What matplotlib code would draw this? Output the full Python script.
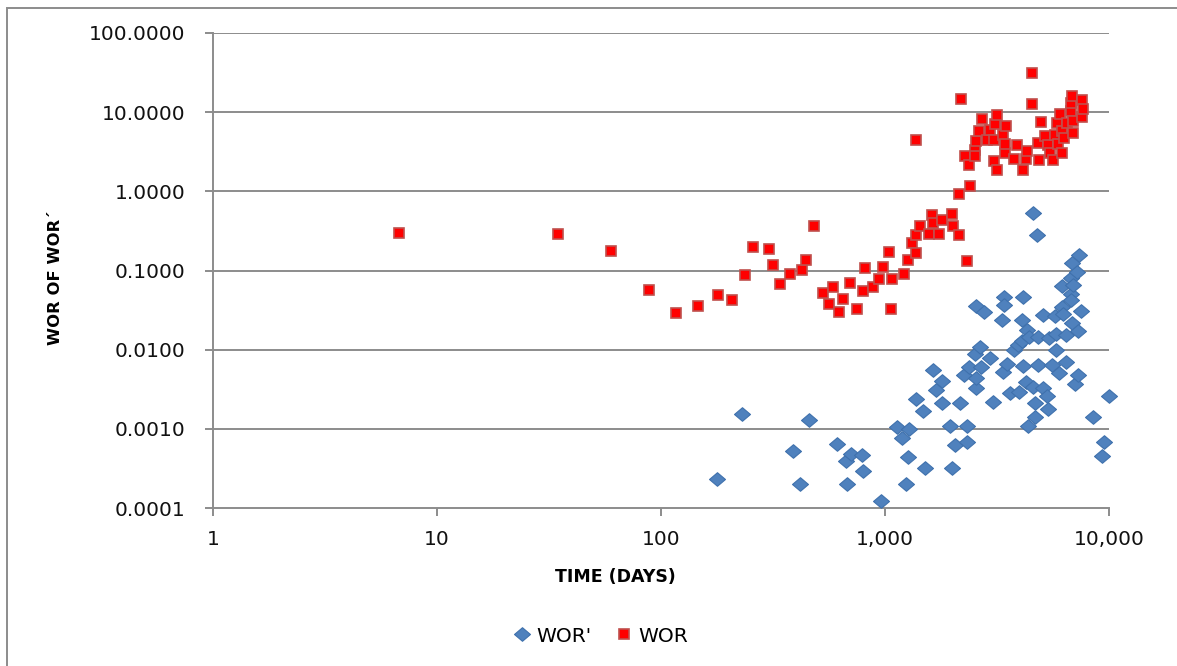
import matplotlib
matplotlib.use("Agg")
import matplotlib.pyplot as plt
from matplotlib.path import Path
from matplotlib.patches import Rectangle
from matplotlib.ticker import FixedLocator, FixedFormatter, NullLocator

# WOR (red squares): time (days), value
wor_t = [6.8, 34.7, 60, 88, 117, 146, 179, 208, 237, 258, 303, 315, 341, 378, 425,
         446, 482, 527, 565, 583, 624, 650, 700, 750, 800, 815, 880, 940, 975, 1040,
         1060, 1080, 1220, 1270, 1320, 1370, 1370, 1375, 1440, 1580, 1620, 1640, 1750,
         1800, 1990, 2010, 2140, 2140, 2185, 2270, 2320, 2380, 2390, 2510, 2510, 2540,
         2620, 2710, 2850, 2940, 3060, 3070, 3090, 3160, 3160, 3350, 3420, 3430, 3470,
         3780, 3900, 4120, 4250, 4290, 4530, 4530, 4810, 4880, 4960, 5160, 5350, 5480,
         5640, 5730, 5850, 5910, 6020, 6170, 6180, 6320, 6500, 6770, 6790, 6860, 6900,
         6900, 7590, 7590, 7620]
wor_v = [0.30, 0.29, 0.174, 0.057, 0.029, 0.036, 0.049, 0.042, 0.089, 0.20, 0.188, 0.118,
         0.068, 0.090, 0.101, 0.134, 0.368, 0.052, 0.038, 0.061, 0.030, 0.044, 0.069,
         0.033, 0.055, 0.106, 0.061, 0.078, 0.110, 0.171, 0.033, 0.077, 0.091, 0.134,
         0.224, 0.28, 0.164, 4.43, 0.36, 0.29, 0.50, 0.40, 0.29, 0.43, 0.52, 0.37, 0.28,
         0.92, 14.5, 2.77, 0.13, 2.17, 1.17, 3.37, 2.77, 4.3, 5.7, 8.3, 4.4, 5.9, 4.5,
         2.4, 7.0, 9.1, 1.88, 5.2, 3.06, 4.0, 6.6, 2.56, 3.9, 1.88, 2.56, 3.2, 12.5, 31.0,
         4.1, 2.52, 7.5, 5.0, 3.8, 3.06, 2.47, 5.2, 7.3, 4.0, 9.6, 5.7, 3.06, 4.7, 7.4,
         10.3, 12.9, 16.1, 7.7, 5.4, 14.3, 8.7, 11.1]

# WOR' (blue diamonds): time (days), derivative value
dwor_t = [178, 231, 390, 418, 459, 608, 670, 675, 703, 787, 795, 955, 1130, 1190, 1240,
          1270, 1280, 1370, 1480, 1510, 1640, 1690, 1800, 1800, 1960, 1990, 2050, 2160,
          2260, 2330, 2330, 2360, 2520, 2540, 2560, 2560, 2660, 2680, 2760, 2930, 3050,
          3320, 3370, 3390, 3390, 3520, 3630, 3780, 3920, 3980, 4090, 4090, 4150, 4150,
          4240, 4290, 4350, 4410, 4580, 4590, 4690, 4690, 4750, 4810, 4810, 5080, 5080,
          5260, 5350, 5370, 5590, 5730, 5800, 5800, 6000, 6170, 6170, 6260, 6440, 6440,
          6750, 6750, 6790, 6830, 6830, 6940, 7080, 7230, 7280, 7290, 7350, 7470, 8510,
          9340, 9460, 9980]
dwor_v = [0.00023, 0.00156, 0.00053, 0.00020, 0.00130, 0.00064, 0.00039, 0.00020, 0.00048,
          0.00047, 0.00029, 0.000123, 0.00105, 0.00077, 0.00020, 0.00044, 0.00099, 0.0024,
          0.0017, 0.00032, 0.0055, 0.0031, 0.0040, 0.0021, 0.0011, 0.00032, 0.00062,
          0.0021, 0.0048, 0.0011, 0.00068, 0.0061, 0.0087, 0.0033, 0.0044, 0.036, 0.0107,
          0.0061, 0.030, 0.0079, 0.0022, 0.024, 0.0052, 0.046, 0.037, 0.0065, 0.0028,
          0.0100, 0.0115, 0.0029, 0.0237, 0.0127, 0.046, 0.0062, 0.0039, 0.0179, 0.0011,
          0.0144, 0.53, 0.0034, 0.0021, 0.0014, 0.277, 0.0146, 0.0064, 0.0275, 0.0033,
          0.0026, 0.0018, 0.0141, 0.0064, 0.027, 0.016, 0.0099, 0.0050, 0.063, 0.035,
          0.028, 0.0154, 0.0070, 0.081, 0.051, 0.042, 0.126, 0.022, 0.065, 0.0037, 0.096,
          0.0048, 0.0173, 0.158, 0.031, 0.0014, 0.00046, 0.00068, 0.0026]

x_ticks = [1, 10, 100, 1000, 10000]
x_tick_labels = ["1", "10", "100", "1,000", "10,000"]
y_ticks = [0.0001, 0.001, 0.01, 0.1, 1, 10, 100]
y_tick_labels = ["0.0001", "0.0010", "0.0100", "0.1000", "1.0000", "10.0000", "100.0000"]

W, H = 1177, 666
fig = plt.figure(figsize=(W / 100, H / 100), dpi=100)
fig.patch.set_facecolor("white")

ax = fig.add_axes([213 / W, 1 - 508 / H, (1109 - 213) / W, (508 - 33) / H])
ax.set_xscale("log")
ax.set_yscale("log")
ax.set_xlim(1, 10000)
ax.set_ylim(0.0001, 100)

grid_c = "#8c8c8c"
for v in y_ticks[1:]:
    ax.axhline(v, color=grid_c, lw=1.4, zorder=1)

for s in ["top", "right"]:
    ax.spines[s].set_visible(False)
for s in ["left", "bottom"]:
    ax.spines[s].set_color(grid_c)
    ax.spines[s].set_linewidth(1.4)

ax.xaxis.set_major_locator(FixedLocator(x_ticks))
ax.xaxis.set_major_formatter(FixedFormatter(x_tick_labels))
ax.xaxis.set_minor_locator(NullLocator())
ax.yaxis.set_major_locator(FixedLocator(y_ticks))
ax.yaxis.set_major_formatter(FixedFormatter(y_tick_labels))
ax.yaxis.set_minor_locator(NullLocator())
ax.tick_params(axis="both", which="major", direction="out", color=grid_c,
               width=1.4, length=6, labelsize=14.5, labelcolor="#111111")
ax.tick_params(axis="x", pad=10)
ax.tick_params(axis="y", pad=14)
for lbl in ax.get_xticklabels() + ax.get_yticklabels():
    lbl.set_fontfamily("DejaVu Sans")

diamond = Path([(-1, 0), (0, 0.85), (1, 0), (0, -0.85), (-1, 0)],
               [Path.MOVETO, Path.LINETO, Path.LINETO, Path.LINETO, Path.CLOSEPOLY])

ax.plot(dwor_t, dwor_v, linestyle="none", marker=diamond, markersize=11.5,
        markerfacecolor="#4f81bd", markeredgecolor="#3f71ad", markeredgewidth=0.8,
        label="WOR'", zorder=3, clip_on=False)
ax.plot(wor_t, wor_v, linestyle="none", marker="s", markersize=7.2,
        markerfacecolor="#ff0000", markeredgecolor="#c0504d", markeredgewidth=1.2,
        label="WOR", zorder=4, clip_on=False)

fig.text(615 / W, 1 - 577 / H, "TIME (DAYS)", ha="center", va="center",
         fontsize=12.5, fontweight="bold", family="DejaVu Sans")
fig.text(56 / W, 1 - 278 / H, "WOR OF WOR\u00b4", ha="center", va="center",
         rotation=90, fontsize=11.8, fontweight="bold", family="DejaVu Sans")

leg = fig.legend(loc="center", bbox_to_anchor=(601 / W, 1 - 636 / H), ncol=2,
                 frameon=False, fontsize=14.5, handlelength=0.8, handletextpad=0.3,
                 columnspacing=1.2, borderpad=0)

# outer chart border (only left/top visible in the reference)
fig.patches.append(Rectangle((7 / W, -0.1), 1.2, 1 - 8 / H + 0.1,
                             transform=fig.transFigure, fill=False,
                             edgecolor="#8c8c8c", lw=1.4))

fig.savefig("out.png", dpi=100, facecolor="white")
